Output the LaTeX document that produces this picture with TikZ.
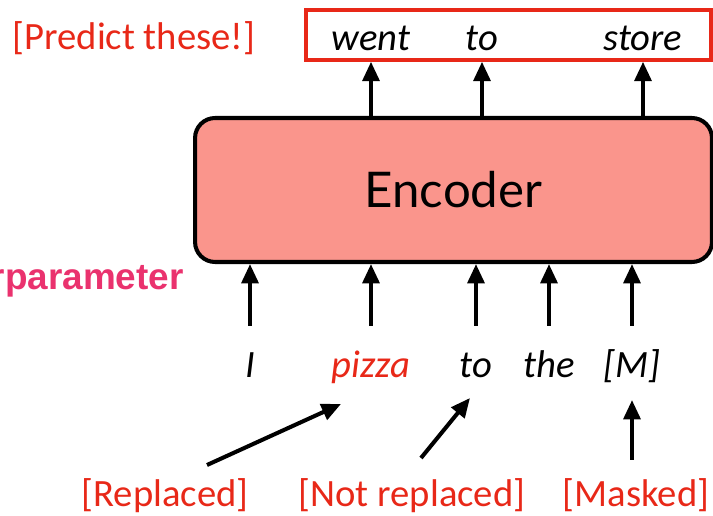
\documentclass[tikz,border=0pt]{standalone}
\usepackage{fontspec}
\setmainfont{Carlito}
\newfontfamily\encfont{Lato}
\newfontfamily\hypfont{Liberation Sans}
\usetikzlibrary{arrows.meta}
\definecolor{predred}{RGB}{232,40,24}
\definecolor{encfill}{RGB}{250,149,140}
\definecolor{hyppink}{RGB}{234,50,110}
\begin{document}
\begin{tikzpicture}[
		x=0.02cm, y=-0.02cm,
		arr/.style={line width=2.3pt, -{Triangle[length=11pt,width=9.5pt]}},
		word/.style={font=\fontsize{22}{26}\selectfont\itshape, anchor=base, inner sep=1pt},
		tag/.style={font=\fontsize{22}{26}\selectfont, text=predred, anchor=base, inner sep=1pt}
	]
	\useasboundingbox (0,0) rectangle (713,516);
	% encoder
	\node[draw, line width=2.3pt, fill=encfill, rounded corners=0.4cm,
		minimum width=10.34cm, minimum height=2.88cm,
		font=\encfont\fontsize{28}{32}\selectfont] (enc) at (453.5,190) {Encoder};
	% predictions
	\node[draw=predred, line width=2pt, minimum width=8.1cm, minimum height=1cm] (pred) at (508.5,35) {};
	\node[tag] (predlbl) at (134,50) {[Predict these!]};
	\node[word] (w1) at (371,51) {went};
	\node[word] (w2) at (482,51) {to};
	\node[word] (w3) at (643,51) {store};
	\foreach \w in {w1,w2,w3}
		\draw[arr] (enc.north -| \w) -- (pred.south -| \w);
	% inputs
	\node[word] (i1) at (250,378) {I};
	\node[word, text=predred] (i2) at (371,378) {pizza};
	\node[word] (i3) at (476,378) {to};
	\node[word] (i4) at (549,378) {the};
	\node[word] (i5) at (632,378) {[M]};
	\foreach \i in {i1,i2,i3,i4,i5}
		\draw[arr] (\i |- 0,326) -- (enc.south -| \i);
	\node[font=\hypfont\bfseries\fontsize{21}{25}\selectfont, text=hyppink, anchor=east, inner sep=0pt] (hyp) at (184,281) {rparameter};
	% replacement tags
	\node[tag] (rep) at (165,506) {[Replaced]};
	\node[tag] (notrep) at (412,506) {[Not replaced]};
	\node[tag] (mask) at (636,506) {[Masked]};
	\coordinate (r1) at (207,465);
	\coordinate (r2) at (341,404);
	\coordinate (n1) at (421,458);
	\coordinate (n2) at (470,398);
	\draw[arr] (r1) -- (r2);
	\draw[arr] (n1) -- (n2);
	\draw[arr] (mask.north -| i5) ++(0,-16) -- (632,400);
\end{tikzpicture}
\end{document}
